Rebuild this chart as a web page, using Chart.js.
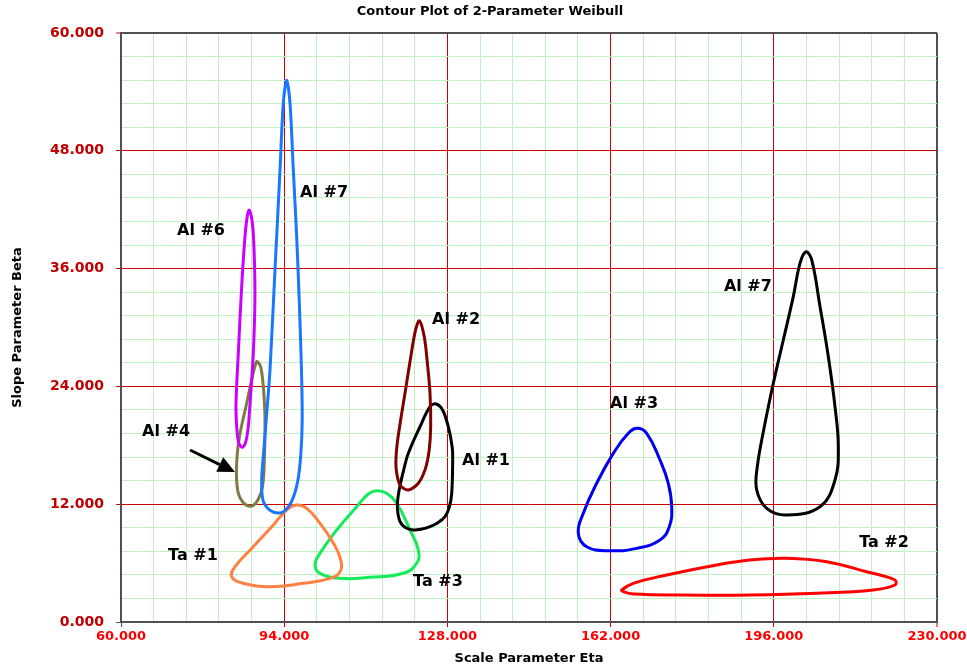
<!DOCTYPE html>
<html><head><meta charset="utf-8">
<script src="https://cdn.jsdelivr.net/npm/chart.js@4"></script>
<style>html,body{margin:0;padding:0;background:#fff}#wrap{width:967px;height:669px;position:relative}</style>
</head><body><div id="wrap"><canvas id="c"></canvas></div>
<script>
// ---- data ----
const xMajorTicks = [60, 94, 128, 162, 196, 230];
const yMajorTicks = [0, 12, 24, 36, 48, 60];
const xMinorStep = 6.8;
const yMinorStep = 2.4;

const seriesNames = ['Al #7 (blue)', 'Al #6', 'Al #4', 'Al #2', 'Al #1', 'Al #3', 'Al #7', 'Ta #1', 'Ta #3', 'Ta #2'];

const al7bX = [94.52,95.21,95.9,96.6,97.15,97.6,97.75,97.45,96.8,95.56,94.0,92.71,91.0,89.58,89.31,89.7,90.4,91.04,92.08,93.13,93.81];
const al7bY = [55.21,52.84,46.04,39.25,32.5,25.67,20.58,17.0,14.3,12.3,11.3,11.1,11.4,12.4,14.46,17.2,21.5,25.67,35.86,46.04,52.84];

const al6X = [86.73,87.4,87.75,87.9,87.56,86.88,86.5,85.9,85.2,84.5,84.1,83.96,84.44,85.14,85.83,86.3];
const al6Y = [41.97,40.5,37.5,33.0,27.37,22.28,19.8,18.2,17.79,18.3,19.9,22.28,27.37,34.16,39.25,41.3];

const al4X = [88.27,89.1,89.65,90.0,89.79,89.4,88.6,87.6,86.52,85.4,84.44,84.05,84.3,84.94,86.19,87.23];
const al4Y = [26.52,26.0,23.97,20.58,15.48,13.6,12.5,11.9,11.82,12.2,13.11,15.0,17.5,19.56,22.28,24.65];

const al2X = [122.15,123.2,123.9,124.38,124.52,124.2,123.4,121.94,119.86,118.13,117.29,117.5,118.4,119.17,120.2,121.3];
const al2Y = [30.69,29.0,26.0,23.3,19.89,17.5,15.6,14.13,13.45,13.96,15.82,18.0,21.0,23.3,26.5,29.6];

const al1X = [125.63,127.0,128.19,129.0,129.1,128.9,128.4,127.5,126.0,124.38,122.5,120.9,119.3,118.13,117.57,117.9,118.8,119.86,122.29,124.38];
const al1Y = [22.21,21.6,19.89,17.8,16.5,13.11,11.7,10.73,10.1,9.71,9.45,9.37,9.6,10.22,11.74,13.3,15.3,17.18,19.89,21.93];

const al3X = [167.57,169.52,172.29,174.02,174.73,174.23,172.29,167.43,161.88,157.02,155.27,156.31,159.1,162.56,165.69];
const al3Y = [19.73,19.22,16.5,14.13,11.74,9.71,8.35,7.5,7.26,7.67,9.04,11.07,14.13,17.18,19.22];

const al7kX = [202.71,203.9,205.63,207.36,208.75,209.44,208.75,205.63,198.69,194.52,192.44,192.56,194.17,195.9,197.98,200.06,201.46];
const al7kY = [37.72,36.88,32.12,27.02,21.93,17.86,14.46,11.74,10.9,11.58,13.45,15.82,20.24,24.32,28.73,33.14,36.54];

const ta1X = [96.6,98.69,101.46,104.27,105.77,105.63,103.54,97.98,91.04,85.48,83.06,83.75,87.56,91.73,94.52];
const ta1Y = [11.92,11.58,10.05,8.02,6.32,5.12,4.45,3.94,3.6,3.94,4.61,5.63,7.67,9.88,11.41];

const ta3X = [113.26,115.35,117.44,120.21,121.94,121.6,118.82,111.88,105.63,101.46,100.42,101.46,104.94,109.1,111.52];
const ta3Y = [13.37,13.11,12.09,9.37,7.33,5.98,4.96,4.55,4.45,4.96,5.81,7.0,9.37,11.74,13.04];

const ta2X = [164.31,166.73,173.69,184.1,191.04,198.69,207.02,215.35,221.25,221.25,216.73,204.94,191.04,177.15,166.73,164.65];
const ta2Y = [3.26,3.94,4.79,5.81,6.32,6.49,6.14,5.12,4.28,3.77,3.26,2.92,2.75,2.75,2.85,3.09];

const labelTexts = ['Al #6', 'Al #7', 'Al #2', 'Al #1', 'Al #3', 'Al #7', 'Ta #2', 'Ta #1', 'Ta #3', 'Al #4'];
const labelX = [76.67, 102.3, 129.8, 136.04, 166.88, 190.6, 218.96, 75.0, 126.04, 69.38];
const labelY = [39.83, 43.7, 30.76, 16.4, 22.2, 34.12, 8.05, 6.72, 4.07, 19.35];

const arrowFrom = [74.38, 17.52];
const arrowTo = [83.75, 15.28];

// ---- build ----
function loop(xs, ys) {
  const n = xs.length;
  const pts = xs.map((x, i) => ({x, y: ys[i]}));
  return [pts[n - 1], ...pts, pts[0], pts[1]];
}
function ds(xs, ys, color, tension) {
  const data = loop(xs, ys);
  const last = data.length - 1;
  return {
    data, borderColor: color, borderWidth: 3, showLine: true, pointRadius: 0,
    tension, fill: false,
    segment: {
      borderColor: c => (c.p0DataIndex === 0 || c.p1DataIndex === last) ? 'rgba(0,0,0,0)' : color
    }
  };
}
const datasets = [
  ds(al7bX, al7bY, '#1a75ff', 0.3),
  ds(al6X, al6Y, '#cc00ff', 0.3),
  ds(al4X, al4Y, '#7f7a45', 0.3),
  ds(al2X, al2Y, '#800000', 0.3),
  ds(al1X, al1Y, '#000000', 0.35),
  ds(al3X, al3Y, '#0000ee', 0.45),
  ds(al7kX, al7kY, '#000000', 0.4),
  ds(ta1X, ta1Y, '#ff8040', 0.45),
  ds(ta3X, ta3Y, '#14ea5a', 0.45),
  ds(ta2X, ta2Y, '#ff0000', 0.4)
];
datasets.forEach((d, i) => d.label = seriesNames[i]);

const isMajor = (v, arr) => arr.some(m => Math.abs(m - v) < 1e-6);
const FONT = "'DejaVu Sans', Verdana, sans-serif";

function gridColor(arr, maxV) {
  return c => {
    const v = c.tick ? c.tick.value : null;
    if (v === null) return '#bff2bf';
    if (Math.abs(v - maxV) < 1e-6) return '#505050';
    return isMajor(v, arr) ? '#cc0000' : '#bff2bf';
  };
}
function gridWidth(maxV) {
  return c => (c.tick && Math.abs(c.tick.value - maxV) < 1e-6) ? 2 : 1;
}
function tickColor(arr, minV) {
  return c => {
    const v = c.tick ? c.tick.value : null;
    if (v === null || !isMajor(v, arr)) return 'rgba(0,0,0,0)';
    if (Math.abs(v - minV) < 1e-6) return '#505050';
    return '#cc0000';
  };
}

const overlay = {
  id: 'overlay',
  afterDatasetsDraw(chart) {
    const {ctx, scales: {x, y}} = chart;
    ctx.save();
    ctx.fillStyle = '#000';
    ctx.font = "bold 16px " + FONT;
    ctx.textAlign = 'center';
    ctx.textBaseline = 'middle';
    labelTexts.forEach((t, i) => ctx.fillText(t, x.getPixelForValue(labelX[i]), y.getPixelForValue(labelY[i])));
    // arrow
    const x0 = x.getPixelForValue(arrowFrom[0]), y0 = y.getPixelForValue(arrowFrom[1]);
    const x1 = x.getPixelForValue(arrowTo[0]), y1 = y.getPixelForValue(arrowTo[1]);
    const ang = Math.atan2(y1 - y0, x1 - x0);
    const hl = 17, hw = 8;
    const bx = x1 - hl * Math.cos(ang), by = y1 - hl * Math.sin(ang);
    ctx.strokeStyle = '#000';
    ctx.lineWidth = 3;
    ctx.beginPath(); ctx.moveTo(x0, y0); ctx.lineTo(bx, by); ctx.stroke();
    ctx.beginPath();
    ctx.moveTo(x1, y1);
    ctx.lineTo(bx + hw * Math.sin(ang), by - hw * Math.cos(ang));
    ctx.lineTo(bx - hw * Math.sin(ang), by + hw * Math.cos(ang));
    ctx.closePath(); ctx.fill();
    // title
    ctx.font = "bold 13px " + FONT;
    ctx.textAlign = 'center';
    ctx.fillText('Contour Plot of 2-Parameter Weibull', 490, 12);
    ctx.restore();
  }
};

new Chart(document.getElementById('c'), {
  type: 'scatter',
  data: {datasets},
  plugins: [overlay],
  options: {
    responsive: true, maintainAspectRatio: false, animation: false,
    layout: {padding: {top: 33, right: 30, left: 0, bottom: 0}},
    plugins: {legend: {display: false}, tooltip: {enabled: false}},
    scales: {
      x: {
        type: 'linear', min: 60, max: 230,
        afterFit: s => { s.height = 47; s.paddingRight = 0; s.paddingLeft = 0; },
        ticks: {
          stepSize: xMinorStep, autoSkip: false, maxRotation: 0, padding: 2,
          color: '#ff0000', font: {family: FONT, size: 13, weight: 'bold'},
          callback: v => isMajor(v, xMajorTicks) ? v.toFixed(3) : ''
        },
        grid: {color: gridColor(xMajorTicks, 230), lineWidth: gridWidth(230), tickLength: 5, tickColor: tickColor(xMajorTicks, 60), tickWidth: 1},
        border: {display: true, color: '#505050', width: 2},
        title: {display: true, text: 'Scale Parameter Eta', color: '#000', font: {family: FONT, size: 13, weight: 'bold'}, padding: {top: 0, bottom: 3}}
      },
      y: {
        type: 'linear', min: 0, max: 60,
        afterFit: s => { s.width = 121; s.paddingTop = 0; s.paddingBottom = 0; },
        ticks: {
          stepSize: yMinorStep, autoSkip: false, padding: 12,
          color: '#c00000', font: {family: FONT, size: 14, weight: 'bold'},
          callback: v => isMajor(v, yMajorTicks) ? v.toFixed(3) : ''
        },
        grid: {color: gridColor(yMajorTicks, 60), lineWidth: gridWidth(60), tickLength: 5, tickColor: tickColor(yMajorTicks, 0), tickWidth: 1},
        border: {display: true, color: '#505050', width: 2},
        title: {display: true, text: 'Slope Parameter Beta', color: '#000', font: {family: FONT, size: 13, weight: 'bold'}, padding: {top: 10, bottom: 0}}
      }
    }
  }
});
</script></body></html>
